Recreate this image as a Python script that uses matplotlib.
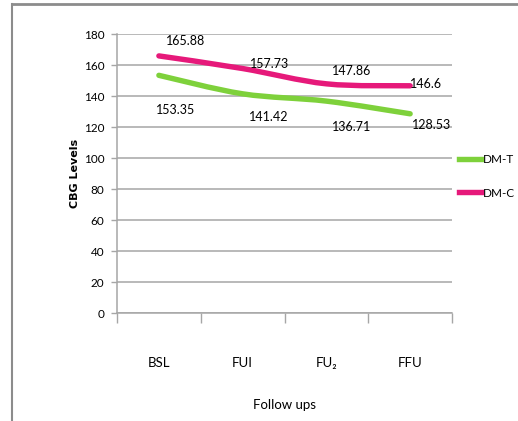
import matplotlib
matplotlib.use('Agg')
import matplotlib.pyplot as plt
import numpy as np
from matplotlib.path import Path
from matplotlib.patches import PathPatch
from matplotlib.lines import Line2D


categories = ['BSL', 'FUI', 'FU₂', 'FFU']
dm_t = [153.35, 141.42, 136.71, 128.53]
dm_c = [165.88, 157.73, 147.86, 146.6]
y_ticks = [0, 20, 40, 60, 80, 100, 120, 140, 160, 180]

green = '#7ED13B'
pink = '#E6197A'
grid_grey = '#A6A6A6'

plt.rcParams['font.family'] = ['Lato', 'DejaVu Sans']


def smooth_path(xs, ys):
	# cubic bezier through the points, like excel's "smoothed line"
	pts = np.column_stack([xs, ys]).astype(float)
	n = len(pts)
	verts = [pts[0]]
	codes = [Path.MOVETO]
	for i in range(n - 1):
		p0 = pts[max(i - 1, 0)]
		p1 = pts[i]
		p2 = pts[i + 1]
		p3 = pts[min(i + 2, n - 1)]
		c1 = p1 + (p2 - p0) / 6.0
		c2 = p2 - (p3 - p1) / 6.0
		verts += [c1, c2, p2]
		codes += [Path.CURVE4] * 3
	return Path(verts, codes)


fig = plt.figure(figsize=(5.18, 4.21), dpi=100)
ax = fig.add_axes([0.2259, 0.2565, 0.6467, 0.6627])

x = np.arange(len(categories))

for vals, col in [(dm_t, green), (dm_c, pink)]:
	patch = PathPatch(smooth_path(x, vals), fill=False, edgecolor=col,
					  linewidth=3.9, capstyle='round', joinstyle='round', zorder=3)
	ax.add_patch(patch)

# data labels (offsets in pixels, placed by hand like the original)
c_offsets = [(27, 15), (27, 5), (25, 13), (16, 2)]
t_offsets = [(17, -35), (26, -23), (25, -26), (21, -11)]
for i in range(len(categories)):
	ax.annotate(f'{dm_c[i]:g}', (x[i], dm_c[i]), xytext=c_offsets[i],
				textcoords='offset pixels', ha='center', va='center',
				fontsize=9, color='black', zorder=4)
	ax.annotate(f'{dm_t[i]:g}', (x[i], dm_t[i]), xytext=t_offsets[i],
				textcoords='offset pixels', ha='center', va='center',
				fontsize=9, color='black', zorder=4)

ax.set_xlim(-0.5, len(categories) - 0.5)
ax.set_ylim(0, 180)
ax.set_yticks(y_ticks)
ax.set_yticklabels([str(v) for v in y_ticks], fontsize=8.5)
ax.yaxis.grid(True, color=grid_grey, linewidth=1.1)
ax.set_axisbelow(True)

ax.set_xticks(x)
ax.set_xticklabels(categories, fontsize=9.5)
ax.set_xticks(np.arange(len(categories) + 1) - 0.5, minor=True)
ax.tick_params(axis='x', which='major', length=0, pad=32)
ax.tick_params(axis='x', which='minor', length=7, color=grid_grey, width=1)
ax.tick_params(axis='y', length=4, color=grid_grey, width=1, pad=5)

for s in ['top', 'right']:
	ax.spines[s].set_visible(False)
for s in ['left', 'bottom']:
	ax.spines[s].set_color(grid_grey)
	ax.spines[s].set_linewidth(1.1)

ax.set_xlabel('Follow ups', fontsize=9.5, labelpad=21)
ax.set_ylabel('CBG Levels', fontsize=8, family='DejaVu Sans', fontweight='bold', labelpad=3)

handles = [Line2D([], [], color=green, linewidth=3.9),
		   Line2D([], [], color=pink, linewidth=3.9)]
fig.legend(handles, ['DM-T', 'DM-C'], loc='upper left', bbox_to_anchor=(0.877, 0.645),
		   frameon=False, fontsize=8.5, handlelength=1.9, handletextpad=0.15,
		   labelspacing=1.9, borderaxespad=0)

# outer frame lines (top and left only)
fig.add_artist(Line2D([0.023, 1.0], [0.99, 0.99], color='#8C8C8C', linewidth=2, transform=fig.transFigure))
fig.add_artist(Line2D([0.023, 0.023], [0.0, 0.99], color='#8C8C8C', linewidth=1.5, transform=fig.transFigure))

fig.savefig('out.png', dpi=100)
